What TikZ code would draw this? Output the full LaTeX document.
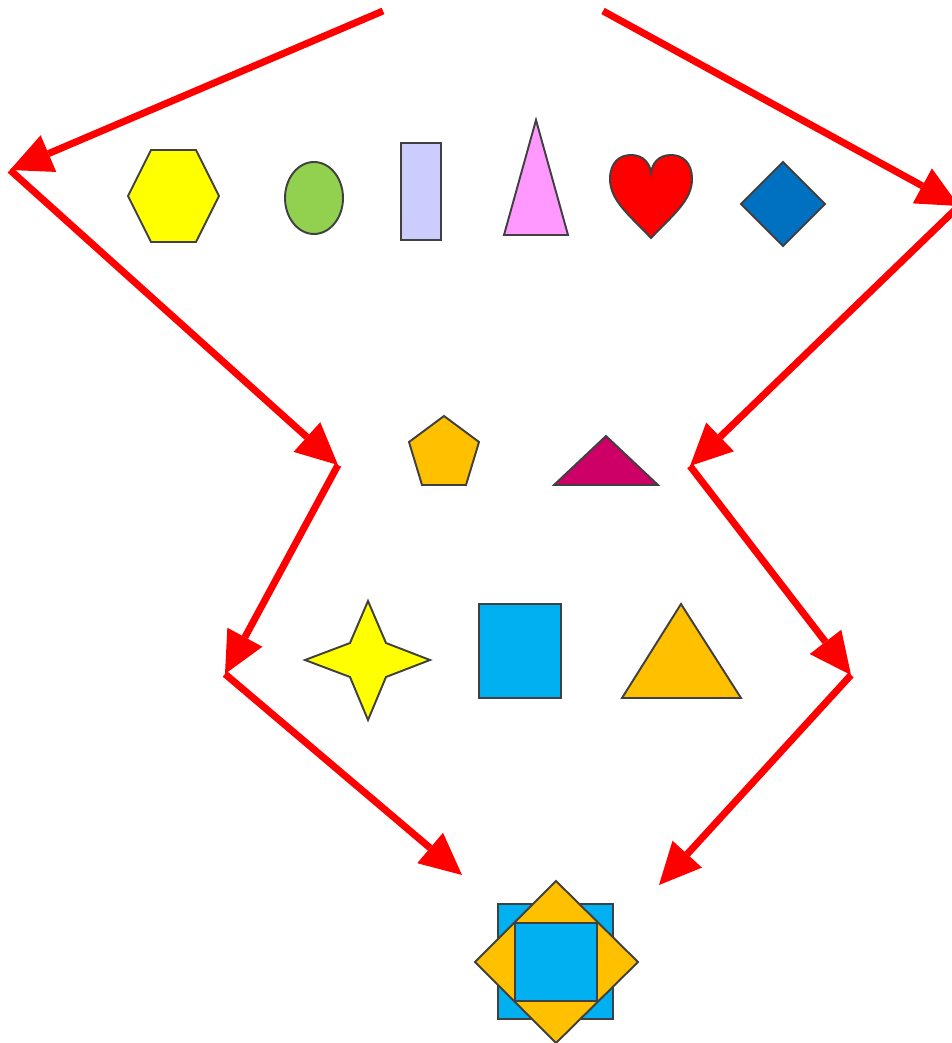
\documentclass[tikz,border=0pt]{standalone}
\usetikzlibrary{arrows.meta}
\definecolor{cline}{RGB}{64,64,64}
\definecolor{cyellow}{RGB}{255,255,0}
\definecolor{cgreen}{RGB}{146,208,80}
\definecolor{clav}{RGB}{204,204,255}
\definecolor{cpink}{RGB}{255,153,255}
\definecolor{cred}{RGB}{255,0,0}
\definecolor{cblue}{RGB}{0,112,192}
\definecolor{corange}{RGB}{255,192,0}
\definecolor{cmag}{RGB}{204,0,102}
\definecolor{csky}{RGB}{0,176,240}
\tikzset{px/.style={x=0.02cm,y=-0.02cm}}
\tikzset{shp/.style={draw=cline,line width=1.1pt,line join=miter},
         flow/.style={cred,line width=4pt,
           -{Triangle[length=23.8pt,width=22.7pt,line width=0pt]}}}

\begin{document}
\begin{tikzpicture}[px]
    \useasboundingbox (0,0) rectangle (951,1043);
    % left path
    \coordinate (l0) at (383,11);
    \coordinate (l1) at (10,170);
    \coordinate (l2) at (338,465);
    \coordinate (l3) at (225,674);
    \coordinate (l4) at (462,875);
    % right path
    \coordinate (r0) at (603,11);
    \coordinate (r1) at (959,206);
    \coordinate (r2) at (690,466);
    \coordinate (r3) at (851,675);
    \coordinate (r4) at (659,885);
    \foreach \a/\b in {l0/l1,l1/l2,l2/l3,l3/l4,r0/r1,r1/r2,r2/r3,r3/r4}
      \draw[flow] (\a) -- (\b);
    % top row
    \draw[shp,fill=cyellow] (128,196) -- (151,150) -- (196,150) -- (219,196) -- (196,242) -- (151,242) -- cycle;
    \draw[shp,fill=cgreen]  (314,198) ellipse [x radius=29, y radius=36];
    \draw[shp,fill=clav]    (401,143) rectangle (441,240);
    \draw[shp,fill=cpink]   (536,120) -- (568,235) -- (504,235) -- cycle;
    \draw[shp,fill=cred]    (651,238) .. controls (628,214) and (610,200) .. (610,179)
        .. controls (610,162) and (620,155) .. (631,155)
        .. controls (644,155) and (650,164) .. (651,173)
        .. controls (652,164) and (658,155) .. (671,155)
        .. controls (682,155) and (692,162) .. (692,179)
        .. controls (692,200) and (674,214) .. (651,238) -- cycle;
    \draw[shp,fill=cblue]   (783,162) -- (825,204) -- (783,246) -- (741,204) -- cycle;
    % middle row
    \draw[shp,fill=corange] (444,416) -- (479,442) -- (466,485) -- (422,485) -- (409,442) -- cycle;
    \draw[shp,fill=cmag]    (606,436) -- (658,485) -- (554,485) -- cycle;
    % third row
    \draw[shp,fill=cyellow] (368,601) -- (386,643) -- (430,660) -- (386,677) -- (368,720)
        -- (350,677) -- (305,660) -- (350,643) -- cycle;
    \draw[shp,fill=csky]    (479,604) rectangle (561,698);
    \draw[shp,fill=corange] (681,604) -- (741,698) -- (622,698) -- cycle;
    % result
    \draw[shp,fill=csky]    (498,904) rectangle (613,1019);
    \draw[shp,fill=corange] (556,881) -- (638,962) -- (556,1043) -- (475,962) -- cycle;
    \draw[shp,fill=csky]    (515,923) rectangle (597,1001);
  \end{tikzpicture}
\end{document}
